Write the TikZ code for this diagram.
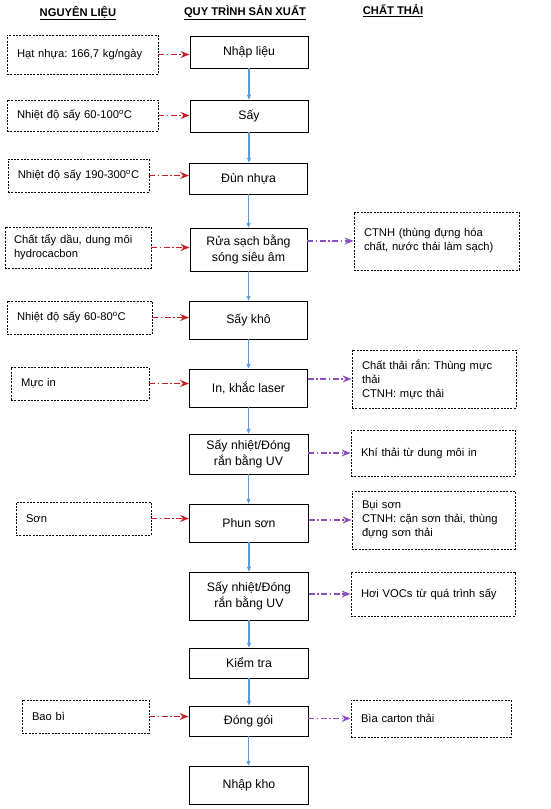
\documentclass[tikz,border=0pt]{standalone}
\usepackage{fontspec}
\setmainfont{Liberation Sans}
\usetikzlibrary{arrows.meta}
\definecolor{redarr}{RGB}{200,32,40}
\definecolor{purarr}{RGB}{140,80,190}
\definecolor{bluarr}{RGB}{91,155,213}
\newcommand{\dg}{\textsuperscript{o}C}
\newcommand{\jl}[2]{\makebox[#1][s]{#2}}
\frenchspacing
\begin{document}
\begin{tikzpicture}[x=1pt,y=-1pt,
  midbox/.style={draw=black, line width=0.9pt, align=center, inner sep=0pt,
    font=\fontsize{12.3}{15.5}\selectfont},
  sidebox/.style={draw=black, dash pattern=on 2pt off 1.3pt, line width=0.8pt,
    inner xsep=10pt, inner ysep=0pt, align=left,
    font=\fontsize{11.2}{14}\selectfont},
  hdr/.style={font=\fontsize{11.2}{13}\selectfont\bfseries, inner sep=0pt},
  inarrow/.style={draw=redarr, line width=1.3pt,
    dash pattern=on 6pt off 2.5pt on 1.5pt off 2.5pt,
    -{Stealth[length=9pt,width=7pt,inset=3pt]}},
  outarrow/.style={draw=purarr, line width=1.3pt,
    dash pattern=on 6pt off 2.5pt on 1.5pt off 2.5pt,
    -{Stealth[length=9pt,width=7pt,inset=3pt]}},
  flow/.style={draw=bluarr, line width=1.4pt,
    -{Stealth[length=8pt,width=7pt,inset=5pt]}}
]
\useasboundingbox (0,0) rectangle (550,809);

% headers
\node[hdr] (h1) at (78,13) {\underline{NGUYÊN LIỆU}};
\node[hdr] (h2) at (245,13) {\underline{QUY TRÌNH SẢN XUẤT}};
\node[hdr] (h3) at (393,11) {\underline{CHẤT THẢI}};

% middle column
\node[midbox, minimum width=118, minimum height=32] (n1) at (249,52) {Nhập liệu};
\node[midbox, minimum width=118, minimum height=32] (n2) at (249,116) {Sấy};
\node[midbox, minimum width=118, minimum height=31] (n3) at (248.5,178.5) {Đùn nhựa};
\node[midbox, minimum width=117, minimum height=43] (n4) at (248.5,249.5) {Rửa sạch bằng\\sóng siêu âm};
\node[midbox, minimum width=118, minimum height=38] (n5) at (248.5,320) {Sấy khô};
\node[midbox, minimum width=118, minimum height=38] (n6) at (248.5,388) {In, khắc laser};
\node[midbox, minimum width=119, minimum height=40] (n7) at (248.5,454) {Sấy nhiệt/Đóng\\rắn bằng UV};
\node[midbox, minimum width=119, minimum height=38] (n8) at (249,523) {Phun sơn};
\node[midbox, minimum width=119, minimum height=48] (n9) at (249,596) {Sấy nhiệt/Đóng\\rắn bằng UV};
\node[midbox, minimum width=119, minimum height=30] (n10) at (249,663) {Kiểm tra};
\node[midbox, minimum width=119, minimum height=30] (n11) at (248.5,721) {Đóng gói};
\node[midbox, minimum width=119, minimum height=38] (n12) at (249,785) {Nhập kho};

% left column
\node[sidebox, text width=131, minimum height=39] (l1) at (82.5,54.5) {Hạt nhựa: 166,7 kg/ngày};
\node[sidebox, text width=131, minimum height=31] (l2) at (82.5,115.5) {Nhiệt độ sấy 60-100\dg};
\node[sidebox, text width=137, inner xsep=2pt, minimum height=33, align=center] (l3) at (78.5,175.5) {Nhiệt độ sấy 190-300\dg};
\node[sidebox, text width=128, inner xsep=9pt, minimum height=41] (l4) at (78,247.5) {\jl{124pt}{Chất tẩy dầu, dung môi}\\hydrocacbon};
\node[sidebox, text width=125, minimum height=33] (l5) at (79.5,317.5) {Nhiệt độ sấy 60-80\dg};
\node[sidebox, text width=118, minimum height=33] (l6) at (80,383.5) {Mực in};
\node[sidebox, text width=115, minimum height=33] (l7) at (83.5,518.5) {Sơn};
\node[sidebox, text width=107, minimum height=33] (l8) at (85.5,716.5) {Bao bì};

% right column
\node[sidebox, text width=145, minimum height=58] (r1) at (436.5,241) {\jl{134pt}{CTNH (thùng đựng hóa}\\chất, nước thải làm sạch)};
\node[sidebox, text width=144, minimum height=58] (r2) at (434,379) {\jl{140pt}{Chất thải rắn: Thùng mực}\\thải\\CTNH: mực thải};
\node[sidebox, text width=144, minimum height=46] (r3) at (433,453) {Khí thải từ dung môi in};
\node[sidebox, text width=143, minimum height=58] (r4) at (433.5,520) {Bụi sơn\\\jl{143pt}{CTNH: cặn sơn thải, thùng}\\đựng sơn thải};
\node[sidebox, text width=144, minimum height=44] (r5) at (433,594) {Hơi VOCs từ quá trình sấy};
\node[sidebox, text width=140, minimum height=37] (r6) at (431,718.5) {Bìa carton thải};

% flow arrows
\foreach \a/\b in {n1/n2,n2/n3,n3/n4,n4/n5,n5/n6,n6/n7,n7/n8,n8/n9,n9/n10,n10/n11,n11/n12}
  \draw[flow] (\a.south) -- (\a.south |- \b.north);

% input arrows
\foreach \a/\b in {l1/n1,l2/n2,l3/n3,l4/n4,l5/n5,l6/n6,l7/n8,l8/n11}
  \draw[inarrow] (\a.east) -- (\a.east -| \b.west);

% output arrows
\foreach \a/\b in {n4/r1,n6/r2,n7/r3,n8/r4,n9/r5,n11/r6}
  \draw[outarrow] (\a.east |- \b.west) -- (\b.west);
\end{tikzpicture}
\end{document}
